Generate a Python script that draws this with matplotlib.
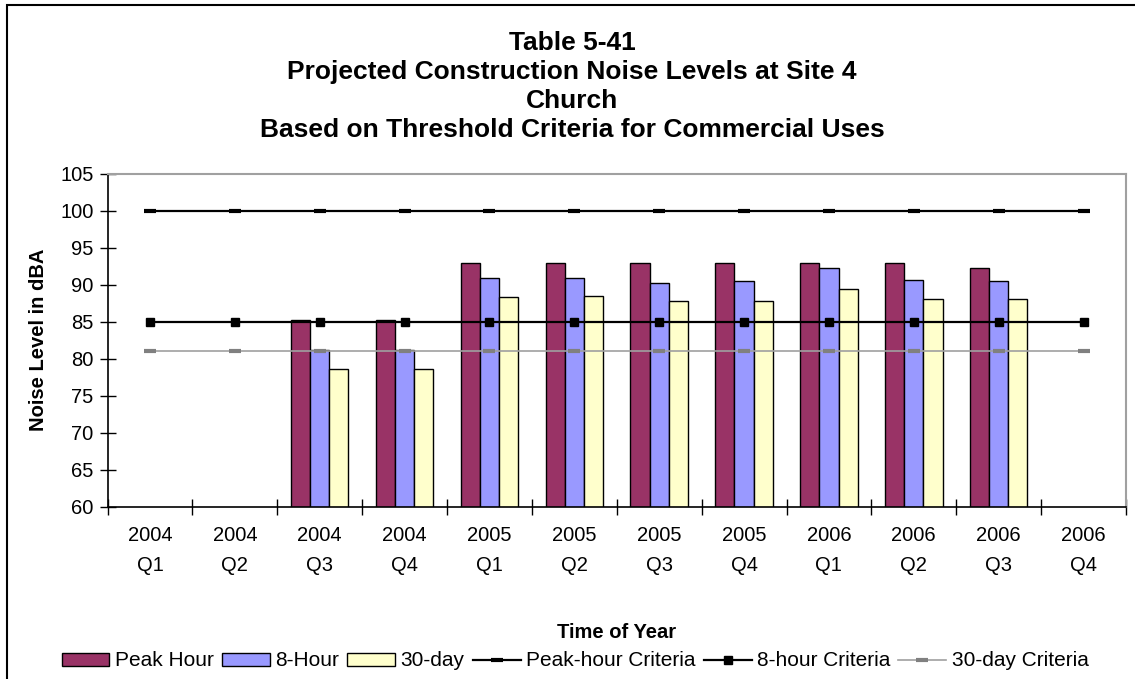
import numpy as np
import matplotlib
matplotlib.use("Agg")
import matplotlib.pyplot as plt
from matplotlib.patches import Rectangle

plt.rcParams['font.family'] = ['Liberation Sans', 'DejaVu Sans']

years = ["2004", "2004", "2004", "2004", "2005", "2005", "2005", "2005",
         "2006", "2006", "2006", "2006"]
quarters = ["Q1", "Q2", "Q3", "Q4", "Q1", "Q2", "Q3", "Q4",
            "Q1", "Q2", "Q3", "Q4"]
nan = np.nan
peak_hour = [nan, nan, 85.2, 85.2, 93.0, 93.0, 93.0, 93.0, 93.0, 93.0, 92.2, nan]
eight_hour = [nan, nan, 81.2, 81.2, 90.9, 90.9, 90.3, 90.5, 92.2, 90.7, 90.5, nan]
thirty_day = [nan, nan, 78.6, 78.6, 88.3, 88.5, 87.8, 87.8, 89.4, 88.1, 88.1, nan]
peak_criteria = [100] * 12
eight_criteria = [85] * 12
thirty_criteria = [81] * 12

title_lines = ["Table 5-41",
               "Projected Construction Noise Levels at Site 4",
               "Church",
               "Based on Threshold Criteria for Commercial Uses"]

W, H = 1135, 679
fig = plt.figure(figsize=(W / 100, H / 100), dpi=100)
ax = fig.add_axes([107.5 / W, 1 - 507 / H, (1126 - 107.5) / W, (507 - 173.6) / H])

x = np.arange(len(years))
bw = 0.226
bar_style = dict(edgecolor="black", linewidth=1.0, zorder=2)
ax.bar(x - bw, peak_hour, bw, color="#993366", label="Peak Hour", **bar_style)
ax.bar(x, eight_hour, bw, color="#9999FF", label="8-Hour", **bar_style)
ax.bar(x + bw, thirty_day, bw, color="#FFFFCC", label="30-day", **bar_style)

ax.plot(x, peak_criteria, color="black", lw=1.6, marker="_", ms=8, mew=3,
        label="Peak-hour Criteria", zorder=3)
ax.plot(x, eight_criteria, color="black", lw=1.6, marker="s", ms=6.3,
        label="8-hour Criteria", zorder=3)
ax.plot(x, thirty_criteria, color="#A0A0A0", lw=1.2, marker="_", ms=8, mew=3,
        mec="#808080", label="30-day Criteria", zorder=3)

ax.set_xlim(-0.5, len(years) - 0.5)
ax.set_ylim(60, 105)
ax.set_yticks(np.arange(60, 106, 5))
ax.set_xticks(x)
ax.set_xticklabels([f"{y}\n{q}" for y, q in zip(years, quarters)],
                   fontsize=14.5, linespacing=1.7)
ax.set_xticks(np.arange(-0.5, len(years)), minor=True)
ax.tick_params(axis="x", which="major", length=0, pad=14)
ax.tick_params(axis="x", which="minor", direction="inout", length=12, width=1)
ax.tick_params(axis="y", direction="inout", length=12, width=1, labelsize=14.5, pad=4)

for side in ("top", "right"):
    ax.spines[side].set_color("#A0A0A0")
    ax.spines[side].set_linewidth(1.5)
for side in ("left", "bottom"):
    ax.spines[side].set_color("black")
    ax.spines[side].set_linewidth(1.2)

ax.set_ylabel("Noise Level in dBA", fontsize=14.5, fontweight="bold")
ax.yaxis.set_label_coords(-0.058, 0.5)
fig.text(617 / W, 1 - 632 / H, "Time of Year", ha="center", va="center",
         fontsize=14.5, fontweight="bold")

for i, line in enumerate(title_lines):
    fig.text(572 / W, 1 - (43 + 29 * i) / H, line, ha="center", va="center",
             fontsize=19, fontweight="bold")

handles, labels = ax.get_legend_handles_labels()
hmap = dict(zip(labels, handles))
leg_labels = ["Peak Hour", "8-Hour", "30-day", "Peak-hour Criteria",
              "8-hour Criteria", "30-day Criteria"]
fig.legend([hmap[l] for l in leg_labels], leg_labels, loc="center",
           bbox_to_anchor=(575 / W, 1 - 661 / H), ncol=6, frameon=False,
           fontsize=15, handlelength=2.3, handleheight=0.6,
           handletextpad=0.25, columnspacing=0.4, borderpad=0)

fig.patches.append(Rectangle((7 / W, -0.01), 1.02, 1 - 5 / H + 0.01,
                             transform=fig.transFigure, fill=False,
                             edgecolor="black", linewidth=1.5))

fig.savefig("out.png", dpi=100)
